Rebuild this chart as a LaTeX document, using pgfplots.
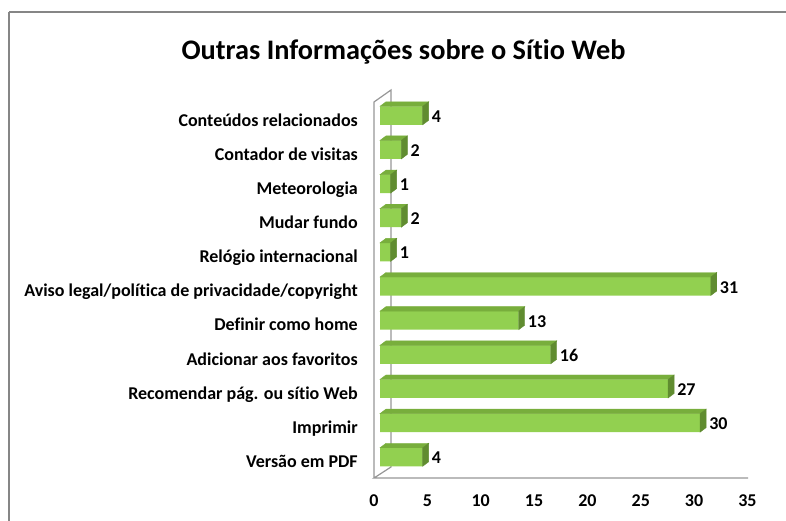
\documentclass[border=0pt]{standalone}
\usepackage{fontspec}
\setmainfont{Carlito}[Ligatures={NoCommon}]
\usepackage{pgfplots}
\pgfplotsset{compat=1.18}
\usepackage{pgfplotstable}
\definecolor{frontc}{RGB}{146,208,80}
\definecolor{topc}{RGB}{120,174,60}
\definecolor{sidec}{RGB}{96,140,48}
\definecolor{wallc}{RGB}{150,150,150}
\definecolor{framec}{RGB}{134,134,134}
\pgfplotstableread{
idx val
0 4
1 30
2 27
3 16
4 13
5 31
6 1
7 2
8 1
9 2
10 4
}\datatable
\begin{document}
\begin{tikzpicture}[x=1pt,y=1pt]
\useasboundingbox (0,0) rectangle (786,521);
\begin{scope}
\clip (0,0) rectangle (786,521);
\draw[framec, line width=1.4pt] (9,509) -- (800,509);
\draw[framec, line width=1.4pt] (9,509) -- (9,-10);
\end{scope}
% wall and floor
\draw[wallc, line width=1.2pt] (374,43) -- (374,419) -- (391,431) -- (391,54) -- (374,43) -- (748,43);
\node[anchor=base, font=\bfseries\fontsize{28.3}{28.3}\selectfont] at (403.5,461) {Outras Informações sobre o Sítio Web};
\begin{axis}[
  at={(380pt,46.9pt)}, anchor=south west,
  scale only axis, width=373.45pt, height=375.65pt,
  xmin=0, xmax=35, ymin=-0.5, ymax=10.5,
  axis line style={draw=none}, major tick length=0pt,
  xtick={0,5,...,35}, ytick={0,...,10},
  yticklabels={Versão em PDF, Imprimir, Recomendar pág. ou sítio Web, Adicionar aos favoritos, Definir como home, Aviso legal/política de privacidade/copyright, Relógio internacional, Mudar fundo, Meteorologia, Contador de visitas, Conteúdos relacionados},
  /pgf/number format/assume math mode=true,
  ticklabel style={font=\bfseries\fontsize{18}{18}\selectfont, inner sep=0pt},
  xticklabel style={anchor=base, xshift=-6pt, yshift=-32.9pt},
  yticklabel style={anchor=base east, xshift=-22pt, yshift=-10.5pt},
  clip=false,
]
\addplot[xbar, bar width=18.5pt, fill=frontc, draw=none, point meta=x,
  nodes near coords,
  nodes near coords style={font=\bfseries\fontsize{18}{18}\selectfont, inner sep=0pt, anchor=west, xshift=9pt, yshift=-1pt}]
  table[x=val, y=idx] {\datatable};
\addplot[only marks, scatter, point meta=x, mark=*, mark size=0pt,
  mark options={draw=none, fill=none},
  visualization depends on={rawx \as \rawx},
  scatter/@pre marker code/.code={%
    \pgfmathsetmacro{\L}{-\rawx*10.67}%
    \pgfmathsetmacro{\Lb}{6-\rawx*10.67}%
    \fill[topc] (\L pt,9.25pt) -- (0pt,9.25pt) -- (6pt,13.75pt) -- (\Lb pt,13.75pt) -- cycle;
    \fill[sidec] (0pt,-9.25pt) -- (0pt,9.25pt) -- (6pt,13.75pt) -- (6pt,-4.75pt) -- cycle;
  },
  scatter/@post marker code/.code={},
  ] table[x=val, y=idx] {\datatable};
\end{axis}
\end{tikzpicture}
\end{document}
